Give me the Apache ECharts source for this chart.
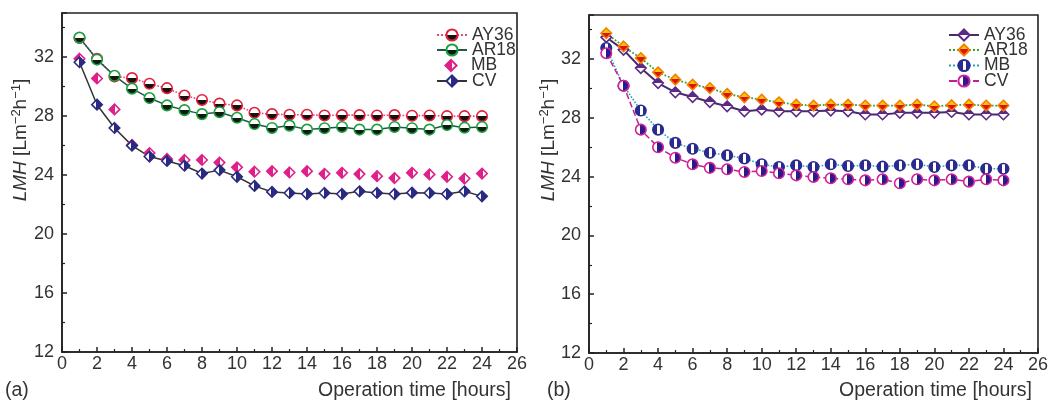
<!DOCTYPE html>
<html>
<head>
<meta charset="utf-8">
<script src="https://cdn.jsdelivr.net/npm/echarts@6/dist/echarts.min.js"></script>
<style>html,body{margin:0;padding:0;background:#fff}#c{width:1051px;height:401px}</style>
</head>
<body>
<div id="c"></div>
<script>
// ---- data ----
var hours = [1,2,3,4,5,6,7,8,9,10,11,12,13,14,15,16,17,18,19,20,21,22,23,24];
var xTicks = [0,2,4,6,8,10,12,14,16,18,20,22,24,26];
var yTicks = [12,16,20,24,28,32];
// panel (a)
var aAY36 = [33.3,31.9,30.7,30.58,30.2,29.9,29.4,29.1,28.85,28.73,28.23,28.14,28.1,28.1,28.05,28.07,28.07,28.05,28.07,28.03,28.05,28.0,28.0,28.0];
var aAR18 = [33.33,31.84,30.74,29.87,29.23,28.73,28.41,28.14,28.27,27.89,27.47,27.2,27.36,27.09,27.18,27.27,27.09,27.09,27.27,27.18,27.09,27.4,27.22,27.27];
var aMB   = [31.9,30.56,28.46,26.05,25.5,25.1,25.03,25.03,24.85,24.53,24.23,24.27,24.18,24.27,24.09,24.16,24.07,23.93,23.8,24.16,24.05,23.89,23.77,24.11];
var aCV   = [31.66,28.78,27.2,26.0,25.26,24.96,24.64,24.11,24.34,23.89,23.27,22.86,22.79,22.72,22.79,22.72,22.9,22.79,22.72,22.81,22.79,22.72,22.9,22.56];
// panel (b)
var bAY36 = [33.49,32.63,31.39,30.37,29.74,29.42,29.08,28.79,28.45,28.56,28.45,28.45,28.45,28.5,28.45,28.23,28.23,28.34,28.34,28.34,28.4,28.23,28.23,28.23];
var bAR18 = [33.76,32.86,32.07,31.1,30.6,30.26,30.03,29.63,29.4,29.24,29.06,28.9,28.84,28.9,28.9,28.84,28.84,28.84,28.9,28.79,28.86,28.9,28.84,28.84];
var bMB   = [32.75,30.19,28.5,27.2,26.3,25.9,25.63,25.45,25.24,24.84,24.66,24.77,24.66,24.84,24.72,24.77,24.68,24.77,24.84,24.66,24.77,24.77,24.54,24.54];
var bCV   = [32.4,30.19,27.2,26.0,25.29,24.84,24.6,24.5,24.32,24.38,24.23,24.09,23.98,23.89,23.82,23.75,23.82,23.55,23.82,23.75,23.82,23.66,23.82,23.75];
var names = ['AY36','AR18','MB','CV'];

var FONT = 'Liberation Sans';
function pairs(v){ return hours.map(function(h,i){ return [h, v[i]]; }); }
function grad(dir, stops){
  var cs = [];
  stops.forEach(function(s){ cs.push({offset:s[0], color:s[2]}); cs.push({offset:s[1], color:s[2]}); });
  return dir === 'v' ? {type:'linear',x:0,y:0,x2:0,y2:1,colorStops:cs} : {type:'linear',x:0,y:0,x2:1,y2:0,colorStops:cs};
}
function mk(name, data, idx, symbol, fill, border, line){
  return {
    name: name, type: 'line', xAxisIndex: idx, yAxisIndex: idx, data: pairs(data),
    symbol: symbol, symbolSize: 10.5, showSymbol: true,
    itemStyle: {color: fill, borderColor: border, borderWidth: 1.6, opacity: 1},
    lineStyle: line, emphasis: {disabled: true}, z: 3
  };
}
var axisCol = '#222';
function xAx(idx){
  return {type:'value', gridIndex: idx, min:0, max:26, interval:2,
    axisLine:{show:true, onZero:false, lineStyle:{color:axisCol, width:1.6}},
    axisTick:{show:true, inside:true, length:5, lineStyle:{color:axisCol, width:1.5}},
    minorTick:{show:true, splitNumber:2, length:3, lineStyle:{color:axisCol, width:1.2}},
    axisLabel:{margin:3, fontSize:18, color:'#333', fontFamily:FONT,
      formatter:function(v){ return xTicks.indexOf(v) >= 0 ? String(v) : ''; }},
    splitLine:{show:false}};
}
function yAx(idx){
  return {type:'value', gridIndex: idx, min:12, max:35, interval:4,
    axisLine:{show:true, onZero:false, lineStyle:{color:axisCol, width:1.6}},
    axisTick:{show:true, inside:true, length:5, lineStyle:{color:axisCol, width:1.5}},
    minorTick:{show:true, splitNumber:2, length:3, lineStyle:{color:axisCol, width:1.2}},
    axisLabel:{margin:8, fontSize:18, color:'#333', fontFamily:FONT,
      formatter:function(v){ return yTicks.indexOf(v) >= 0 ? String(v) : ''; }},
    splitLine:{show:false}};
}
var rowsY = [33, 48, 63.5, 79];
function legends(left, prefix){
  return names.map(function(n, i){
    return {orient:'vertical', left:left, top:rowsY[i] - 7, itemWidth:30, itemHeight:14, padding:0,
      textStyle:{fontSize:17.5, color:'#333', fontFamily:FONT}, data:[prefix + n], selectedMode:false,
      formatter:function(s){ return s.replace(/^b:/, ''); }};
  });
}
var series = [
  mk(names[0], aAY36, 0, 'circle', grad('v',[[0,0.5,'#fff'],[0.5,1,'#1a1010']]), '#e0203a', {type:'dotted', color:'#e04a7a', width:1.6}),
  mk(names[1], aAR18, 0, 'circle', grad('v',[[0,0.5,'#fff'],[0.5,1,'#101a10']]), '#1aa040', {type:'solid', color:'#1f5a48', width:1.5}),
  mk(names[2], aMB, 0, 'diamond', grad('h',[[0,0.55,'#e0208a'],[0.55,1,'#fff']]), '#e0208a', {opacity:0, width:0}),
  mk(names[3], aCV, 0, 'diamond', grad('h',[[0,0.45,'#fff'],[0.45,1,'#2a2a82']]), '#2a2a82', {type:'solid', color:'#333', width:1.5}),
  mk('b:' + names[0], bAY36, 1, 'diamond', grad('v',[[0,0.5,'#5b2a86'],[0.5,1,'#fff']]), '#5b2a86', {type:'solid', color:'#4a2a6a', width:2}),
  mk('b:' + names[1], bAR18, 1, 'diamond', grad('v',[[0,0.45,'#ffc800'],[0.45,1,'#e01010']]), '#f08000', {type:'dotted', color:'#3aa030', width:1.8}),
  mk('b:' + names[2], bMB, 1, 'circle', grad('h',[[0,0.4,'#2a2a90'],[0.4,0.65,'#fff'],[0.65,1,'#2a2a90']]), '#2a2a90', {type:'dotted', color:'#30a0b8', width:1.6}),
  mk('b:' + names[3], bCV, 1, 'circle', grad('h',[[0,0.45,'#fff'],[0.45,1,'#2a1a8a']]), '#d0209a', {type:'dashed', color:'#c02090', width:1.5})
];
var chart = echarts.init(document.getElementById('c'), null, {renderer:'canvas'});
var titleStyle = {fontSize:19.5, fill:'#333', fontFamily:FONT};
function yTitle(x, y){
  return {type:'text', x:x, y:y, rotation:Math.PI/2, style:{
    text:'{i|LMH} [Lm{s|−2}h{s|−1}]', align:'center', verticalAlign:'middle',
    fontSize:19, fill:'#333', fontFamily:FONT,
    rich:{i:{fontStyle:'italic', fontSize:19, fill:'#333', fontFamily:FONT},
          s:{fontSize:13, verticalAlign:'bottom', padding:[0,0,10,0], fill:'#333', fontFamily:FONT}}}};
}
chart.setOption({
  animation:false,
  grid:[
    {left:62, top:13, width:455, height:339, show:true, borderColor:axisCol, borderWidth:1.6, backgroundColor:'transparent'},
    {left:589, top:15, width:452, height:338, show:true, borderColor:axisCol, borderWidth:1.6, backgroundColor:'transparent'}
  ],
  xAxis:[xAx(0), xAx(1)],
  yAxis:[yAx(0), yAx(1)],
  legend: legends(436, '').concat(legends(948, 'b:')),
  series: series,
  graphic:[
    yTitle(21, 140), yTitle(549, 140),
    {type:'text', x:511, y:391, style:Object.assign({text:'Operation time [hours]', align:'right', verticalAlign:'middle'}, titleStyle)},
    {type:'text', x:1032, y:391, style:Object.assign({text:'Operation time [hours]', align:'right', verticalAlign:'middle'}, titleStyle)},
    {type:'text', x:5, y:391, style:Object.assign({text:'(a)', align:'left', verticalAlign:'middle'}, titleStyle)},
    {type:'text', x:547, y:391, style:Object.assign({text:'(b)', align:'left', verticalAlign:'middle'}, titleStyle)}
  ]
});
</script>
</body>
</html>
